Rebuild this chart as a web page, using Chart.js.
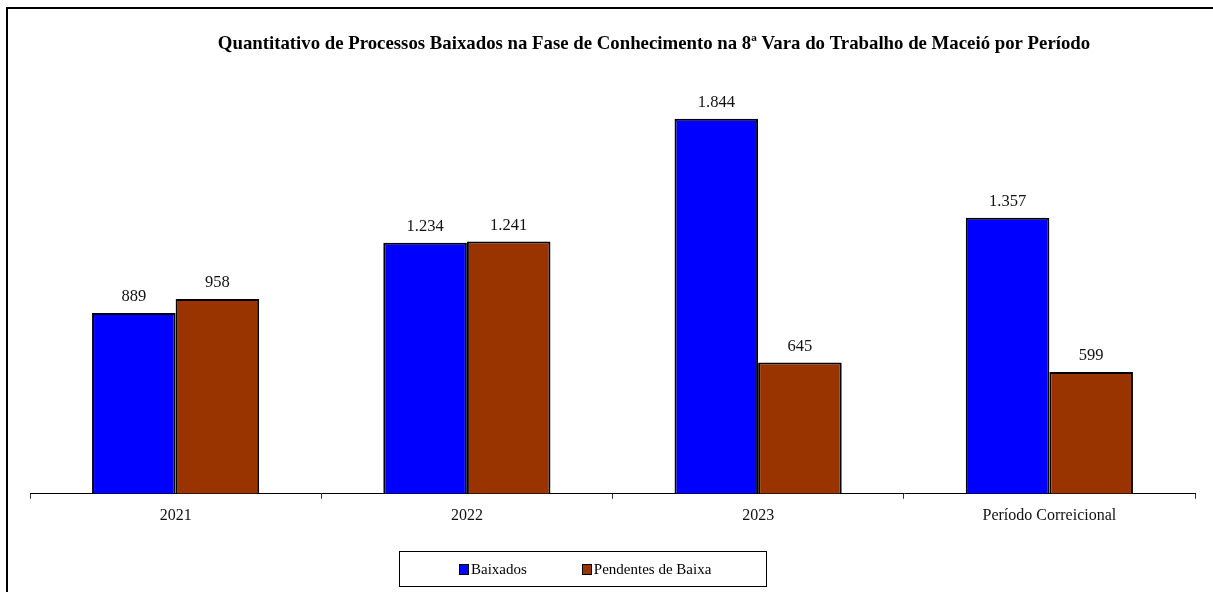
<!DOCTYPE html>
<html>
<head>
<meta charset="utf-8">
<script src="https://cdn.jsdelivr.net/npm/chart.js@4"></script>
<style>
  body { margin: 0; background: #fff; overflow: hidden; width: 1213px; height: 592px; position: relative; }
  #frame { position: absolute; left: 6px; top: 7px; width: 1207px; height: 585px; border-left: 2px solid #000; border-top: 2px solid #000; box-sizing: border-box; }
  #legend { position: absolute; left: 399px; top: 551px; width: 368px; height: 36px; border: 1px solid #000; box-sizing: border-box;
            display: flex; align-items: center; padding-left: 59px; font: 15px "Liberation Serif", serif; color: #000; white-space: nowrap; }
  #legend .item { display: flex; align-items: center; margin-right: 55px; flex: none; }
  #legend .sw { width: 8px; height: 9px; border: 1px solid #000; margin-right: 2px; }
</style>
</head>
<body>
<div id="frame"><canvas id="c"></canvas></div>
<div id="legend"></div>
<script>
const categories = ['2021', '2022', '2023', 'Período Correicional'];
const baixados = [889, 1234, 1844, 1357];
const pendentes = [958, 1241, 645, 599];
const seriesNames = ['Baixados', 'Pendentes de Baixa'];
const seriesColors = ['#0000FF', '#993300'];
const titleText = 'Quantitativo de Processos Baixados na Fase de Conhecimento na 8ª Vara do Trabalho de Maceió por Período';

function fmt(n) {
    return String(n).replace(/\B(?=(\d{3})+(?!\d))/g, '.');
}

// values above the bars
const valueLabels = {
    id: 'valueLabels',
    afterDatasetsDraw(chart) {
        const ctx = chart.ctx;
        ctx.save();
        ctx.font = '16.5px "Liberation Serif", serif';
        ctx.fillStyle = '#111';
        ctx.textAlign = 'center';
        ctx.textBaseline = 'middle';
        chart.data.datasets.forEach((ds, i) => {
            chart.getDatasetMeta(i).data.forEach((bar, j) => {
                ctx.fillText(fmt(ds.data[j]), bar.x, bar.y - 16);
            });
        });
        ctx.restore();
    }
};

// title sits a bit right of centre in the original
const titlePlugin = {
    id: 'titlePlugin',
    afterDraw(chart) {
        const ctx = chart.ctx;
        ctx.save();
        ctx.font = 'bold 18.8px "Liberation Serif", serif';
        ctx.fillStyle = '#000';
        ctx.textAlign = 'center';
        ctx.textBaseline = 'middle';
        ctx.fillText(titleText, chart.chartArea.left + 624, 35);
        ctx.restore();
    }
};

const c = document.getElementById('c');
c.style.width = '1205px';
c.style.height = '583px';

new Chart(c, {
    type: 'bar',
    data: {
        labels: categories,
        datasets: [
            { label: seriesNames[0], data: baixados, backgroundColor: seriesColors[0], borderColor: '#000', borderWidth: 2, categoryPercentage: 0.574, barPercentage: 1 },
            { label: seriesNames[1], data: pendentes, backgroundColor: seriesColors[1], borderColor: '#000', borderWidth: 2, categoryPercentage: 0.574, barPercentage: 1 }
        ]
    },
    options: {
        responsive: false,
        animation: false,
        layout: { padding: { top: 78, left: 22, right: 18, bottom: 60 } },
        plugins: {
            legend: { display: false },
            title: { display: false },
            tooltip: { enabled: false }
        },
        scales: {
            x: {
                offset: true,
                grid: { display: true, drawOnChartArea: false, drawTicks: true, tickLength: 5, color: '#333', offset: true },
                border: { display: true, color: '#000', width: 1 },
                ticks: { color: '#111', font: { family: '"Liberation Serif", serif', size: 16 }, padding: 7, maxRotation: 0 }
            },
            y: {
                display: false,
                min: 0,
                max: 2000
            }
        }
    },
    plugins: [valueLabels, titlePlugin]
});

const legend = document.getElementById('legend');
seriesNames.forEach((name, i) => {
    const item = document.createElement('div');
    item.className = 'item';
    item.innerHTML = `<span class="sw" style="background:${seriesColors[i]}"></span><span>${name}</span>`;
    legend.appendChild(item);
});
</script>
</body>
</html>
